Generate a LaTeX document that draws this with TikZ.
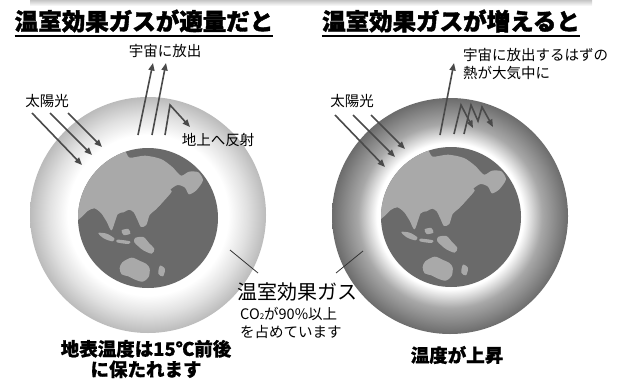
\documentclass[tikz,border=0pt]{standalone}
\usepackage{fontspec}
\setmainfont{Noto Sans CJK JP}
\newfontfamily\heavyfont{Noto Sans CJK JP}[BoldFeatures={FakeBold=1.6}]
\newfontfamily\semiheavyfont{Noto Sans CJK JP}[BoldFeatures={FakeBold=0.8}]
\usetikzlibrary{arrows.meta}

\definecolor{earthdark}{HTML}{6A6A6A}
\definecolor{land}{HTML}{A9A9A9}
\definecolor{arrowgray}{HTML}{4A4A4A}
\definecolor{leader}{HTML}{333333}
\definecolor{rimlight}{HTML}{BBBBBB}
\definecolor{rimmid}{HTML}{A8A8A8}
\definecolor{rimdark}{HTML}{6C6C6C}

% atmosphere shells: white next to the ground, greyer towards the rim
\pgfdeclareradialshading{thinair}{\pgfpoint{0bp}{0bp}}{%
  color(0bp)=(white); color(17bp)=(white); color(21bp)=(white!55!rimlight);
  color(25bp)=(rimlight); color(50bp)=(rimlight)}
\pgfdeclareradialshading{thickair}{\pgfpoint{0bp}{0bp}}{%
  color(0bp)=(white); color(15.5bp)=(white); color(19.5bp)=(rimmid);
  color(25bp)=(rimdark); color(50bp)=(rimdark)}

% land masses in a local frame (1 unit = 1/3 pt), origin 73/75 pt up-left of the globe centre
\newcommand{\landmasses}{%
  \fill[land] plot[smooth cycle, tension=0.45] coordinates {
    (-20,140) (5,128) (30,100) (70,66) (110,40) (148,24) (164,44) (210,38)
    (258,48) (292,72) (318,98) (342,86) (370,88) (384,112) (364,142)
    (342,154) (330,134) (308,126) (286,140) (272,162) (260,180) (242,200)
    (224,216) (214,246) (198,252) (188,232) (176,208) (162,200) (146,208)
    (128,214) (110,262) (95,236) (78,210) (58,196) (38,204) (15,226) (-20,244)};
  \fill[land] plot[smooth cycle, tension=0.5] coordinates {
    (238,185) (262,160) (282,140) (290,146) (270,170) (246,194)};
  \fill[land] plot[smooth cycle, tension=0.5] coordinates {
    (70,270) (95,272) (118,286) (112,295) (86,286)};
  \fill[land] plot[smooth cycle, tension=0.5] coordinates {
    (128,290) (165,295) (160,303) (126,298)};
  \fill[land] plot[smooth cycle, tension=0.5] coordinates {
    (140,262) (160,258) (166,272) (146,276)};
  \fill[land] plot[smooth cycle, tension=0.5] coordinates {
    (180,285) (205,282) (222,300) (238,318) (230,332) (205,322) (190,310) (178,298)};
  \fill[land] plot[smooth cycle, tension=0.5] coordinates {
    (142,358) (170,344) (195,354) (213,362) (224,376) (221,402) (203,416)
    (180,410) (160,400) (140,394) (134,376)};
  \fill[land] plot[smooth cycle, tension=0.5] coordinates {
    (255,368) (270,378) (264,400) (250,392)};
}

\begin{document}
\begin{tikzpicture}[x=1pt, y=-1pt,
  ray/.style={draw=arrowgray, line width=1.6pt, line join=miter,
    -{Triangle[length=7.5pt, width=6pt]}},
  leadline/.style={draw=leader, line width=0.8pt},
  title/.style={font=\fontsize{23.5}{26}\selectfont\heavyfont\bfseries, inner sep=0pt},
  small/.style={font=\fontsize{14.5}{18}\selectfont, inner sep=0pt},
  gaslabel/.style={font=\fontsize{20}{24}\selectfont, inner sep=0pt},
  result/.style={font=\fontsize{18.5}{20.5}\selectfont\semiheavyfont\bfseries,
    inner sep=0pt, align=center},
  air/.style={circle, minimum size=236pt, inner sep=0pt},
  globe/.style={circle, minimum size=140pt, inner sep=0pt, fill=earthdark}]
\useasboundingbox (0,0) rectangle (623,380);

% soft shadow strip along the top edge
\shade[top color=gray!45, bottom color=white] (30,0) rectangle (592,6);

% ---------- left: appropriate amount of greenhouse gas ----------
\node[air, shading=thinair] (airL) at (148,215) {};
\node[globe] (earthL) at (148,218) {};
\begin{scope}
  \clip (148,218) circle (70);
  \begin{scope}[shift={(75,143)}, x=0.3333pt, y=-0.3333pt]
    \landmasses
  \end{scope}
\end{scope}

\node[title] (titleL) at (144,21) {温室効果ガスが適量だと};
\draw[line width=2.5pt] (titleL.south west |- 0,36) coordinate (ulLa) -- (titleL.south east |- 0,36) coordinate (ulLb);

% sunlight
\coordinate (sunLa0) at (32,113);  \coordinate (sunLa1) at (82,165);
\coordinate (sunLb0) at (50,113);  \coordinate (sunLb1) at (92,155);
\coordinate (sunLc0) at (68,113);  \coordinate (sunLc1) at (102,147);
\draw[ray] (sunLa0) -- (sunLa1);
\draw[ray] (sunLb0) -- (sunLb1);
\draw[ray] (sunLc0) -- (sunLc1);
\node[small] (sunL) at (47,101) {太陽光};

% heat escaping and heat sent back
\coordinate (outLa0) at (138,135); \coordinate (outLa1) at (153,63);
\coordinate (outLb0) at (152,135); \coordinate (outLb1) at (166,63);
\coordinate (refL0) at (165,135);  \coordinate (refL1) at (170,105);
\coordinate (refL2) at (190,127);
\draw[ray] (outLa0) -- (outLa1);
\draw[ray] (outLb0) -- (outLb1);
\draw[ray] (refL0) -- (refL1) -- (refL2);
\node[small] (spaceL) at (165,51) {宇宙に放出};
\node[small] (backL) at (218,140) {地上へ反射};

\node[result] (tempL) at (146,359) {地表温度は15℃前後\\に保たれます};

% ---------- right: increased greenhouse gas ----------
\node[air, shading=thickair] (airR) at (450,216) {};
\node[globe] (earthR) at (451,217) {};
\begin{scope}
  \clip (451,217) circle (70);
  \begin{scope}[shift={(378,142)}, x=0.3333pt, y=-0.3333pt]
    \landmasses
  \end{scope}
\end{scope}

\node[title] (titleR) at (451,21) {温室効果ガスが増えると};
\draw[line width=2.5pt] (titleR.south west |- 0,36) coordinate (ulRa) -- (titleR.south east |- 0,36) coordinate (ulRb);

\coordinate (sunRa0) at (335,115); \coordinate (sunRa1) at (385,167);
\coordinate (sunRb0) at (353,115); \coordinate (sunRb1) at (395,157);
\coordinate (sunRc0) at (371,115); \coordinate (sunRc1) at (405,149);
\draw[ray] (sunRa0) -- (sunRa1);
\draw[ray] (sunRb0) -- (sunRb1);
\draw[ray] (sunRc0) -- (sunRc1);
\node[small] (sunR) at (352,101) {太陽光};

\coordinate (outR0) at (440,135);  \coordinate (outR1) at (454,63);
\coordinate (zA0) at (454,134); \coordinate (zA1) at (461,105); \coordinate (zA2) at (473,128);
\coordinate (zB0) at (464,134); \coordinate (zB1) at (471,105); \coordinate (zB2) at (478,121);
\coordinate (zB3) at (482,107); \coordinate (zB4) at (493,127);
\draw[ray] (outR0) -- (outR1);
\draw[ray] (zA0) -- (zA1) -- (zA2);
\draw[ray] (zB0) -- (zB1) -- (zB2) -- (zB3) -- (zB4);
\node[small, anchor=north west, align=left] (trapR) at (463,48)
  {宇宙に放出するはずの\\熱が大気中に};

\node[result] (tempR) at (457,355) {温度が上昇};

% ---------- shared greenhouse-gas label ----------
\node[gaslabel, anchor=west] (gas) at (237,292) {温室効果ガス};
\node[small, anchor=north west, align=left] (gasnote) at (240,307)
  {CO{\fontsize{8}{8}\selectfont\raisebox{-0.5pt}{2}}が90\%以上\\を占めています};
\coordinate (leadL0) at (230,250); \coordinate (leadL1) at (258,273);
\coordinate (leadR0) at (363,251); \coordinate (leadR1) at (336,273);
\draw[leadline] (leadL0) -- (leadL1);
\draw[leadline] (leadR0) -- (leadR1);
\end{tikzpicture}
\end{document}
